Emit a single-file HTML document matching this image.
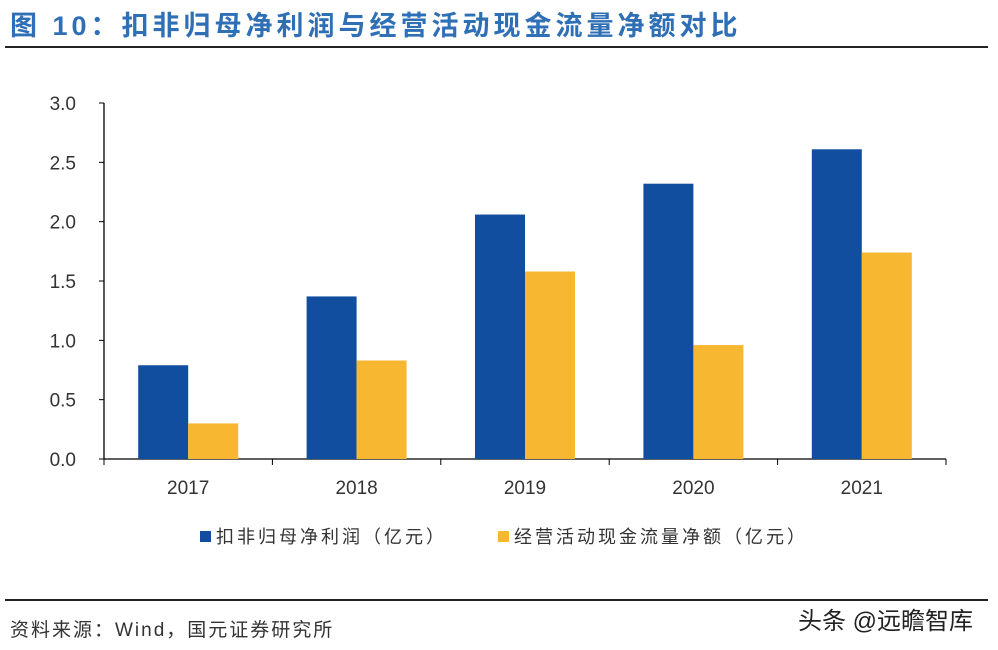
<!DOCTYPE html>
<html><head><meta charset="utf-8"><style>
body{margin:0;width:998px;height:650px;background:#fff;position:relative;overflow:hidden;font-family:"Liberation Sans","Noto Sans CJK SC",sans-serif}
.t{position:absolute;white-space:nowrap}
</style></head><body>
<div class="t" style="left:10px;top:4px;font-size:27px;font-weight:bold;color:#2f6fb5;letter-spacing:4px">图 10：扣非归母净利润与经营活动现金流量净额对比</div>
<div style="position:absolute;left:5px;top:46px;width:983px;height:2px;background:#222"></div>
<svg id="c" width="998" height="560" style="position:absolute;left:0;top:0"></svg>
<div style="position:absolute;left:5px;top:599px;width:983px;height:2px;background:#222"></div>
<div class="t" style="left:10px;top:615px;font-size:19px;color:#333;letter-spacing:2px">资料来源：Wind，国元证券研究所</div>
<div class="t" style="left:798px;top:601px;font-size:24px;color:#222">头条 @远瞻智库</div>
<script>
const categories=["2017","2018","2019","2020","2021"];
const profit=[0.79,1.37,2.06,2.32,2.61];
const cashflow=[0.30,0.83,1.58,0.96,1.74];
const ticks=[0,0.5,1.0,1.5,2.0,2.5,3.0];
const svg=document.getElementById('c');const NS='http://www.w3.org/2000/svg';
const x0=104,x1=946,y0=459,yTop=103,ymax=3;
const y=v=>y0-(v/ymax)*(y0-yTop);
const band=(x1-x0)/categories.length;
function el(t,a){const e=document.createElementNS(NS,t);for(const k in a)e.setAttribute(k,a[k]);svg.appendChild(e);return e;}
const ax=el('line',{x1:x0,y1:yTop,x2:x0,y2:y0,stroke:'#000','stroke-width':1.3});


const bx=el('line',{x1:x0,y1:y0,x2:x1,y2:y0,stroke:'#000','stroke-width':1.3});


ticks.forEach(v=>{
 const l=el('line',{x1:x0-5,y1:y(v),x2:x0,y2:y(v),stroke:'#000'});
 
 
 const t=el('text',{x:x0-28,y:y(v)+7,'text-anchor':'end','font-size':19,fill:'#333','font-family':'Liberation Sans'});
 t.textContent=v.toFixed(1);
 
 
});
for(let i=0;i<=categories.length;i++){
 const l=el('line',{x1:x0+band*i,y1:y0,x2:x0+band*i,y2:y0+6,stroke:'#000'});
 
 
}
categories.forEach((c,i)=>{
 const cx=x0+band*(i+0.5);
 const b=el('rect',{x:cx-50,y:y(profit[i]),width:50,height:y0-y(profit[i]),fill:'#114ea0'});
 
 
 const o=el('rect',{x:cx,y:y(cashflow[i]),width:50,height:y0-y(cashflow[i]),fill:'#f7b731'});
 
 
 const t=el('text',{x:cx,y:494,'text-anchor':'middle','font-size':19,fill:'#333','font-family':'Liberation Sans'});
 t.textContent=c;
 
 
});
const lg=[['#114ea0','扣非归母净利润（亿元）',200],['#f7b731','经营活动现金流量净额（亿元）',498]];
lg.forEach(([col,txt,lx])=>{
 const r=el('rect',{x:lx,y:531,width:11,height:11,fill:col});
 
 
 const t=el('text',{x:lx+16,y:543,'font-size':18,fill:'#333','font-family':'Liberation Sans, Noto Sans CJK SC, sans-serif','letter-spacing':3});
 t.textContent=txt;
 
 
});
</script>
</body></html>
